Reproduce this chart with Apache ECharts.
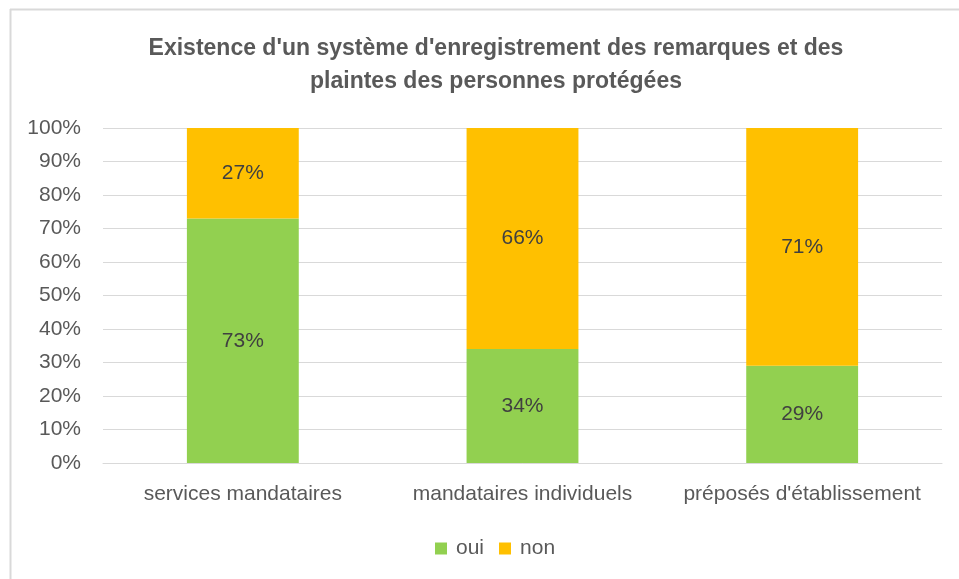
<!DOCTYPE html>
<html><head><meta charset="utf-8">
<script src="https://cdn.jsdelivr.net/npm/echarts@6/dist/echarts.min.js"></script>
<style>html,body{margin:0;padding:0;background:#fff}#c{width:959px;height:579px}</style>
</head><body><div id="c"></div>
<script>
const categories = ['services mandataires', 'mandataires individuels', "préposés d'établissement"];
const ouiValues = [73, 34, 29];
const nonValues = [27, 66, 71];
const yTicks = [0, 10, 20, 30, 40, 50, 60, 70, 80, 90, 100];
const seriesNames = ['oui', 'non'];
const titleText = "Existence d'un système d'enregistrement des remarques et des\nplaintes des personnes protégées";

const chart = echarts.init(document.getElementById('c'));
const font = 'Liberation Sans, Arial, sans-serif';
const lbl = {show: true, position: 'inside', formatter: '{c}%', color: '#404040', fontSize: 21, fontFamily: font};
chart.setOption({
  animation: false,
  graphic: [
    {type: 'line', shape: {x1: 10, y1: 9.5, x2: 959, y2: 9.5}, style: {stroke: '#d9d9d9', lineWidth: 2}},
    {type: 'line', shape: {x1: 10.5, y1: 9, x2: 10.5, y2: 579}, style: {stroke: '#d9d9d9', lineWidth: 2}}
  ],
  title: {
    text: titleText, left: 491, top: 27, textAlign: 'center',
    textStyle: {fontFamily: font, fontSize: 23, fontWeight: 'bold', color: '#595959', lineHeight: 33}
  },
  legend: {
    data: seriesNames, bottom: 15, left: 430, itemWidth: 12, itemHeight: 12, itemGap: 15,
    icon: 'rect', textStyle: {fontFamily: font, fontSize: 21, color: '#595959', padding: [0, 0, 0, 4]}
  },
  grid: {left: 103, right: 17, top: 128, bottom: 116},
  xAxis: {
    type: 'category', data: categories,
    axisLine: {lineStyle: {color: '#d9d9d9', width: 1}}, axisTick: {show: false},
    axisLabel: {interval: 0, fontFamily: font, fontSize: 21, color: '#595959', margin: 21}
  },
  yAxis: {
    type: 'value', min: 0, max: 100, interval: 10,
    axisLine: {show: false}, axisTick: {show: false},
    splitLine: {lineStyle: {color: '#d9d9d9'}},
    axisLabel: {fontFamily: font, fontSize: 21, color: '#595959', margin: 22,
      formatter: v => yTicks.includes(v) ? v + '%' : ''}
  },
  series: [
    {name: 'oui', type: 'bar', stack: 's', data: ouiValues, barWidth: '40%', itemStyle: {color: '#92D050'}, label: lbl},
    {name: 'non', type: 'bar', stack: 's', data: nonValues, barWidth: '40%', itemStyle: {color: '#FFC000'}, label: lbl}
  ]
});
</script></body></html>
